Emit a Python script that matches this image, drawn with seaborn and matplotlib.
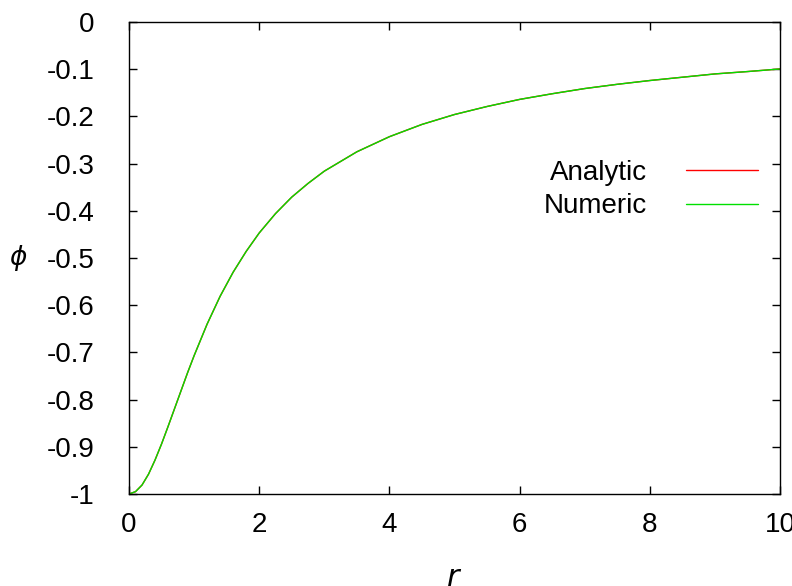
import matplotlib
matplotlib.use("Agg")
import matplotlib.pyplot as plt
import seaborn as sns
import pandas as pd

# Radial samples and potential values
r = [0.0, 0.1, 0.2, 0.3, 0.4, 0.5, 0.6, 0.7, 0.8, 0.9, 1.0, 1.2, 1.4, 1.6, 1.8,
     2.0, 2.25, 2.5, 2.75, 3.0, 3.5, 4.0, 4.5, 5.0, 5.5, 6.0, 6.5, 7.0, 7.5,
     8.0, 8.5, 9.0, 9.5, 10.0]
phi_analytic = [-1.000, -0.995, -0.981, -0.958, -0.928, -0.894, -0.857, -0.819,
                -0.781, -0.743, -0.707, -0.640, -0.581, -0.530, -0.486, -0.447,
                -0.406, -0.371, -0.342, -0.316, -0.275, -0.243, -0.217, -0.196,
                -0.179, -0.164, -0.152, -0.141, -0.132, -0.124, -0.117, -0.110,
                -0.105, -0.0995]
phi_numeric = [-1.000, -0.995, -0.981, -0.958, -0.928, -0.894, -0.857, -0.819,
               -0.781, -0.743, -0.707, -0.640, -0.581, -0.530, -0.486, -0.447,
               -0.406, -0.371, -0.342, -0.316, -0.275, -0.243, -0.217, -0.196,
               -0.179, -0.164, -0.152, -0.141, -0.132, -0.124, -0.117, -0.110,
               -0.105, -0.0995]

x_ticks = [0, 2, 4, 6, 8, 10]
y_ticks = [0, -0.1, -0.2, -0.3, -0.4, -0.5, -0.6, -0.7, -0.8, -0.9, -1]
y_ticklabels = ["0", "-0.1", "-0.2", "-0.3", "-0.4", "-0.5", "-0.6", "-0.7",
                "-0.8", "-0.9", "-1"]

sns.set_style("white")
plt.rcParams["font.family"] = ["Liberation Sans", "DejaVu Sans"]
plt.rcParams["mathtext.fontset"] = "dejavusans"
for key in ("text.color", "axes.labelcolor", "xtick.color", "ytick.color",
            "xtick.labelcolor", "ytick.labelcolor"):
    plt.rcParams[key] = "black"

df = pd.DataFrame({"r": r, "Analytic": phi_analytic, "Numeric": phi_numeric})

fig = plt.figure(figsize=(7.92, 5.86), dpi=100)
ax = fig.add_axes([129 / 792, 92 / 586, 651 / 792, 472 / 586])

sns.lineplot(data=df, x="r", y="Analytic", ax=ax, color="#ff0000",
             linewidth=1.0, label="Analytic")
sns.lineplot(data=df, x="r", y="Numeric", ax=ax, color="#00e000",
             linewidth=1.0, label="Numeric")

ax.set_xlim(0, 10)
ax.set_ylim(-1, 0)
ax.set_xticks(x_ticks)
ax.set_yticks(y_ticks)
ax.set_yticklabels(y_ticklabels)

for s in ax.spines.values():
    s.set_color("black")
    s.set_linewidth(1.0)
    s.set_visible(True)

ax.tick_params(axis="both", direction="in", length=6, width=1.0, color="black",
               labelsize=20, labelcolor="black",
               top=True, right=True, bottom=True, left=True)
ax.tick_params(axis="x", pad=13)
ax.tick_params(axis="y", pad=25)

ax.set_xlabel("$r$", fontsize=22, labelpad=18)
ax.set_ylabel(r"$\phi$", fontsize=19, rotation=0, labelpad=20, va="center")

ax.legend(loc="upper right", bbox_to_anchor=(758 / 792, 1 - 160 / 586),
          bbox_transform=fig.transFigure, frameon=False, markerfirst=False,
          fontsize=20, handlelength=2.6, handletextpad=1.4, labelspacing=0.26,
          borderpad=0, borderaxespad=0)

fig.savefig("out.png", dpi=100)
